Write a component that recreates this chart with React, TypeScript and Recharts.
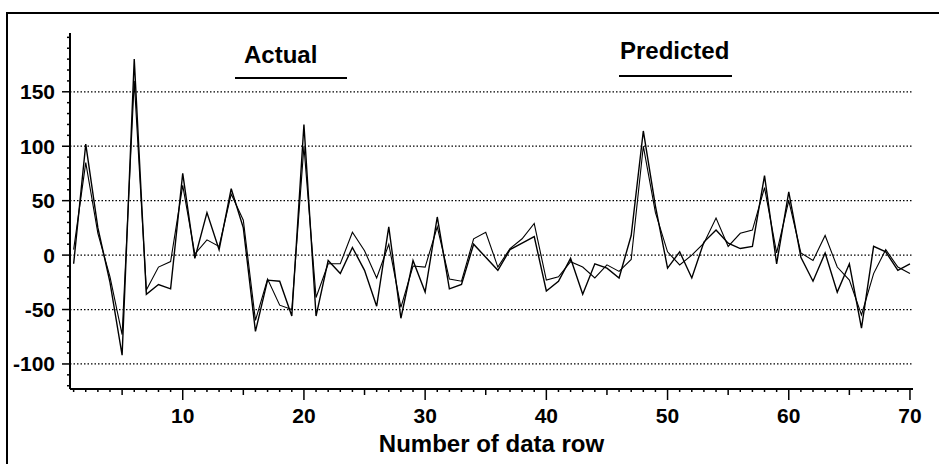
import { LineChart, Line, XAxis, YAxis, ReferenceLine, Legend } from "recharts";

// values, one per data row (1..70)
const actual = [
  -8, 102, 25, -25, -92, 180, -36, -27, -31, 75,
  -3, 39, 5, 61, 25, -70, -23, -24, -56, 120,
  -56, -5, -17, 7, -14, -47, 26, -58, -5, -34,
  35, -31, -27, 10, -2, -14, 5, 11, 17, -33,
  -24, -3, -36, -8, -12, -21, 18, 114, 45, -12,
  3, -21, 12, 23, 11, 6, 8, 73, -8, 58,
  -2, -24, 2, -34, -8, -67, 8, 3, -14, -8,
];
const predicted = [
  5, 85, 20, -20, -73, 160, -32, -11, -6, 64,
  1, 14, 8, 56, 32, -60, -22, -46, -50, 100,
  -39, -8, -8, 21, 4, -21, 10, -48, -10, -11,
  26, -22, -24, 15, 21, -11, 6, 15, 29, -23,
  -20, -6, -11, -21, -9, -15, -4, 100, 39, 3,
  -9, 0, 11, 34, 8, 20, 23, 62, 2, 50,
  2, -5, 18, -11, -23, -55, -17, 5, -11, -17,
];
const rowNumbers = actual.map((_, i) => i + 1);
const yTicks = [
  -120, -110, -100, -90, -80, -70, -60, -50, -40, -30, -20, -10, 0,
  10, 20, 30, 40, 50, 60, 70, 80, 90, 100, 110, 120, 130, 140, 150,
  160, 170, 180, 190, 200,
];
const gridValues = [-100, -50, 0, 50, 100, 150];

const data = rowNumbers.map((row, i) => ({
  row,
  Actual: actual[i],
  Predicted: predicted[i],
}));

const FONT = '"Liberation Sans", Arial, sans-serif';
const legendPos = [
  { left: 244, top: 40, lineLeft: 235, lineWidth: 112, lineTop: 77 },
  { left: 620, top: 36, lineLeft: 619, lineWidth: 113, lineTop: 75 },
];

const XTick = ({ x, y, payload }: any) => {
  const v = payload.value;
  const len = v % 10 === 0 ? 11 : v % 5 === 0 ? 6 : 3;
  return (
    <g>
      <line x1={x} y1={y} x2={x} y2={y + len} stroke="#000" strokeWidth={1.5} />
      {v % 10 === 0 && (
        <text
          x={x}
          y={y + 34}
          textAnchor="middle"
          fontSize={21}
          fontWeight="bold"
          fontFamily={FONT}
          fill="#000"
        >
          {v}
        </text>
      )}
    </g>
  );
};

const YTick = ({ x, y, payload }: any) => {
  const v = payload.value;
  const major = gridValues.includes(v);
  const len = major ? 8 : 3;
  return (
    <g>
      <line x1={x - len} y1={y} x2={x} y2={y} stroke="#000" strokeWidth={1.5} />
      {major && (
        <text
          x={x - 15}
          y={y + 7.5}
          textAnchor="end"
          fontSize={21}
          fontWeight="bold"
          fontFamily={FONT}
          fill="#000"
        >
          {v}
        </text>
      )}
    </g>
  );
};

const LegendContent = ({ payload }: any) => (
  <div style={{ position: "relative", width: 939, height: 0 }}>
    {payload?.map((item: any, index: number) => {
      const p = legendPos[index];
      return (
        <div key={`item-${index}`}>
          <span
            style={{
              position: "absolute",
              left: p.left,
              top: p.top,
              fontSize: 24,
              fontWeight: "bold",
              fontFamily: FONT,
              lineHeight: "30px",
              whiteSpace: "nowrap",
              color: "#000",
            }}
          >
            {item.value}
          </span>
          <span
            style={{
              position: "absolute",
              left: p.lineLeft,
              top: p.lineTop,
              width: p.lineWidth,
              height: 2,
              background: "#000",
            }}
          />
        </div>
      );
    })}
  </div>
);

export default function App() {
  return (
    <div
      style={{
        position: "absolute",
        left: 0,
        top: 0,
        width: 939,
        height: 464,
        background: "#fff",
        overflow: "hidden",
        fontFamily: FONT,
      }}
    >
      <div
        style={{
          position: "absolute",
          left: 6,
          top: 12,
          width: 960,
          height: 480,
          borderLeft: "2px solid #000",
          borderTop: "2px solid #000",
        }}
      />
      <LineChart
        width={939}
        height={464}
        data={data}
        margin={{ top: 33, right: 26, bottom: 0, left: 8 }}
        style={{ position: "absolute", left: 0, top: 0 }}
      >
        {gridValues.map((v) => (
          <ReferenceLine
            key={v}
            y={v}
            stroke="#000"
            strokeWidth={1.3}
            strokeDasharray="1.5 2"
          />
        ))}
        <XAxis
          dataKey="row"
          type="number"
          domain={[0.7, 70.25]}
          ticks={rowNumbers}
          interval={0}
          allowDataOverflow
          height={75}
          tickSize={0}
          tickMargin={0}
          tickLine={false}
          tick={<XTick />}
          axisLine={{ stroke: "#000", strokeWidth: 2 }}
          label={{
            value: "Number of data row",
            position: "insideBottom",
            offset: 12,
            fontSize: 24,
            fontWeight: "bold",
            fontFamily: FONT,
            fill: "#000",
          }}
        />
        <XAxis
          xAxisId="top"
          dataKey="row"
          type="number"
          domain={[0.7, 70.25]}
          orientation="top"
          height={0}
          tick={false}
          tickLine={false}
          axisLine={{ stroke: "#000", strokeWidth: 2 }}
        />
        <YAxis
          type="number"
          domain={[-123, 204]}
          ticks={yTicks}
          interval={0}
          allowDataOverflow
          width={62}
          tickSize={0}
          tickMargin={0}
          tickLine={false}
          tick={<YTick />}
          axisLine={{ stroke: "#000", strokeWidth: 2 }}
        />
        <YAxis
          yAxisId="right"
          orientation="right"
          domain={[-123, 204]}
          width={0}
          tick={false}
          tickLine={false}
          axisLine={{ stroke: "#000", strokeWidth: 2 }}
        />
        <Legend
          content={<LegendContent />}
          wrapperStyle={{ position: "absolute", left: 0, top: 0, width: 939, height: 0 }}
        />
        <Line
          type="linear"
          dataKey="Actual"
          stroke="#000"
          strokeWidth={1.4}
          dot={false}
          isAnimationActive={false}
        />
        <Line
          type="linear"
          dataKey="Predicted"
          stroke="#000"
          strokeWidth={1.1}
          dot={false}
          isAnimationActive={false}
        />
      </LineChart>
    </div>
  );
}
